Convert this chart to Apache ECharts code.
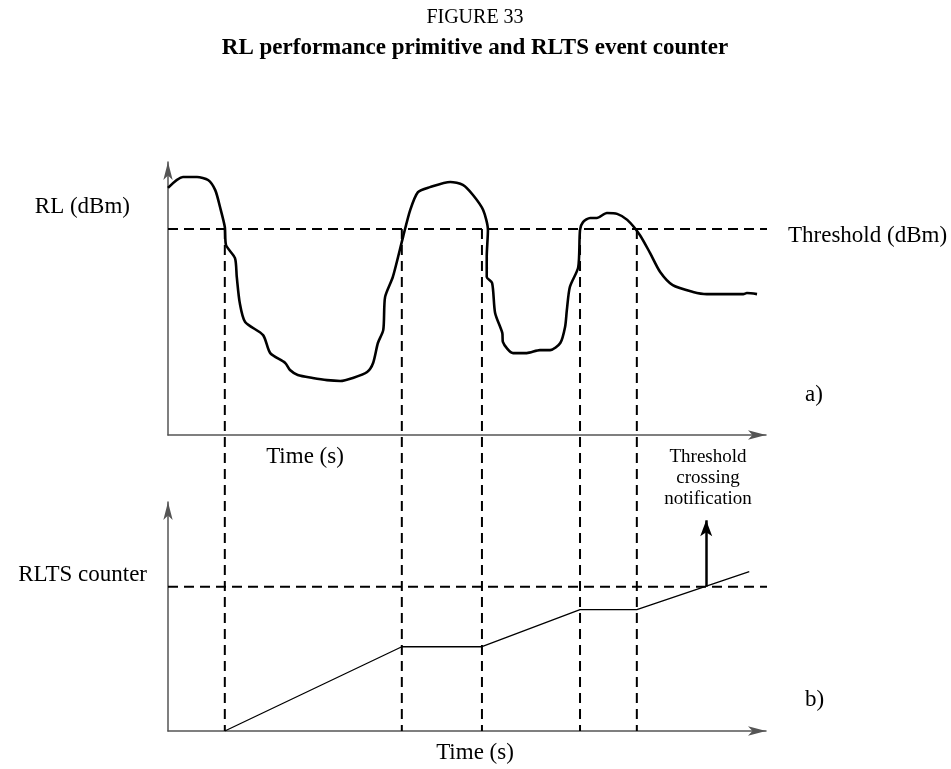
<!DOCTYPE html>
<html>
<head>
<meta charset="utf-8">
<title>FIGURE 33</title>
<script src="https://cdn.jsdelivr.net/npm/echarts@6/dist/echarts.min.js"></script>
<style>
  html, body { margin: 0; padding: 0; background: #fff; }
  #chart { width: 951px; height: 769px; }
</style>
</head>
<body>
<div id="chart"></div>
<script>
// RL 曲线 (时间, 电平) —— 任意单位
let rlTime = [0, 2.5, 4.85, 6.7, 7.9, 8.7, 9.5, 9.7, 11.2, 11.5, 12.0, 12.9, 15.9, 17.1, 19.6, 20.4, 21.7, 24.2, 26.6, 28.8,
    30.9, 33.3, 34.3, 35.1, 36.0, 36.3, 37.6, 39.3, 40.5, 41.8, 43.8, 47.2, 49.3, 51.0, 52.7, 53.5, 53.3, 53.3, 54.2, 54.7,
    55.9, 56.0, 57.7, 60.0, 62.2, 63.9, 65.6, 66.4, 66.7, 67.2, 68.6, 68.9, 69.4, 70.6, 71.7, 73.4, 75.1, 76.8, 78.9, 80.6,
    82.3, 84.4, 87.8, 90.1, 96.2, 96.8, 98.5]
let rlLevel = [90.5, 94.5, 94.5, 93.4, 89.7, 83.5, 76.2, 69.6, 64.8, 57.9, 48.4, 41.4, 36.6, 30.0, 26.4, 23.8, 22.0, 20.9, 20.1, 19.8,
    20.9, 23.1, 26.4, 33.7, 38.5, 50.5, 57.9, 72.5, 82.4, 89.0, 90.8, 92.7, 91.6, 87.9, 82.4, 75.1, 65.2, 57.9, 55.7, 44.7,
    37.4, 34.1, 30.0, 30.0, 31.1, 31.1, 33.7, 39.6, 45.8, 54.2, 61.5, 75.1, 78.0, 79.5, 79.5, 81.3, 81.0, 78.8, 73.3, 66.7,
    59.7, 54.9, 52.4, 51.6, 51.6, 52.0, 51.6]
let rlThreshold = 75.5
let thresholdEnd = 101.8

// 越过门限的时刻 (竖虚线)
let crossTimes = [9.5, 39.1, 52.5, 68.9, 78.4]

// RLTS 计数器
let counterTime = [9.5, 39.1, 52.5, 68.9, 78.4, 97.2]
let counterValue = [0, 36.8, 36.8, 53.0, 53.0, 69.6]
let counterThreshold = 63
let notifyTime = 90
let notifyTop = 92

let font = '"Liberation Serif", "Times New Roman", serif'

function pairs(xs, ys) {
    return xs.map(function (x, i) { return [x, ys[i]] })
}

let axisLine = {
    show: true,
    symbol: ['none', 'arrow'],
    symbolSize: [7, 18],
    lineStyle: { color: '#555', width: 1.5 }
}
function axis(idx) {
    return {
        type: 'value', gridIndex: idx, min: 0, max: 100,
        axisLine: axisLine, axisTick: { show: false }, axisLabel: { show: false }, splitLine: { show: false }
    }
}
let dash = { color: '#000', width: 2, type: [10, 6] }

let myChart = echarts.init(document.getElementById('chart'))
let option = {
    animation: false,
    grid: [
        { left: 168, right: 185, top: 162, height: 273 },
        { left: 168, right: 185, top: 502, height: 229 }
    ],
    xAxis: [axis(0), axis(1)],
    yAxis: [axis(0), axis(1)],
    series: [
        {
            type: 'line', xAxisIndex: 0, yAxisIndex: 0, data: pairs(rlTime, rlLevel),
            symbol: 'none', smooth: 0.25, lineStyle: { color: '#000', width: 2.6, join: 'round' }
        },
        {
            type: 'line', xAxisIndex: 0, yAxisIndex: 0, clip: false,
            data: [[0, rlThreshold], [thresholdEnd, rlThreshold]], symbol: 'none', lineStyle: dash
        },
        {
            type: 'line', xAxisIndex: 1, yAxisIndex: 1, clip: false,
            data: [[0, counterThreshold], [thresholdEnd, counterThreshold]], symbol: 'none', lineStyle: dash
        },
        {
            type: 'line', xAxisIndex: 1, yAxisIndex: 1, data: pairs(counterTime, counterValue),
            symbol: 'none', lineStyle: { color: '#000', width: 1.3 },
            markLine: {
                silent: true, animation: false,
                symbol: ['none', 'arrow'], symbolSize: [9, 16],
                label: { show: false },
                lineStyle: { color: '#000', width: 2.5, type: 'solid' },
                data: [[{ coord: [notifyTime, counterThreshold] }, { coord: [notifyTime, notifyTop] }]]
            }
        }
    ]
}
myChart.setOption(option)

// 文字
function txt(x, y, s, size, align, weight) {
    return {
        type: 'text', x: x, y: y, silent: true,
        style: { text: s, font: (weight || 'normal') + ' ' + size + 'px ' + font, fill: '#000', align: align, verticalAlign: 'middle' }
    }
}
let els = [
    txt(475, 18, 'FIGURE 33', 20, 'center'),
    txt(475, 48, 'RL performance primitive and RLTS event counter', 23, 'center', 'bold'),
    txt(130, 207, 'RL (dBm)', 23, 'right'),
    txt(788, 236, 'Threshold (dBm)', 23, 'left'),
    txt(805, 395, 'a)', 23, 'left'),
    txt(305, 457, 'Time (s)', 23, 'center'),
    txt(147, 575, 'RLTS counter', 23, 'right'),
    txt(805, 700, 'b)', 23, 'left'),
    txt(475, 753, 'Time (s)', 23, 'center'),
    txt(708, 457, 'Threshold', 19, 'center'),
    txt(708, 478, 'crossing', 19, 'center'),
    txt(708, 499, 'notification', 19, 'center')
]
// 竖虚线: 从上图门限一直到下图横轴
crossTimes.forEach(function (t) {
    let p1 = myChart.convertToPixel({ xAxisIndex: 0, yAxisIndex: 0 }, [t, rlThreshold])
    let p2 = myChart.convertToPixel({ xAxisIndex: 1, yAxisIndex: 1 }, [t, 0])
    els.push({
        type: 'line', silent: true, z: 1,
        shape: { x1: p1[0], y1: p1[1], x2: p2[0], y2: p2[1] },
        style: { stroke: '#000', lineWidth: 2, lineDash: [10, 6] }
    })
})
myChart.setOption({ graphic: els })
</script>
</body>
</html>
